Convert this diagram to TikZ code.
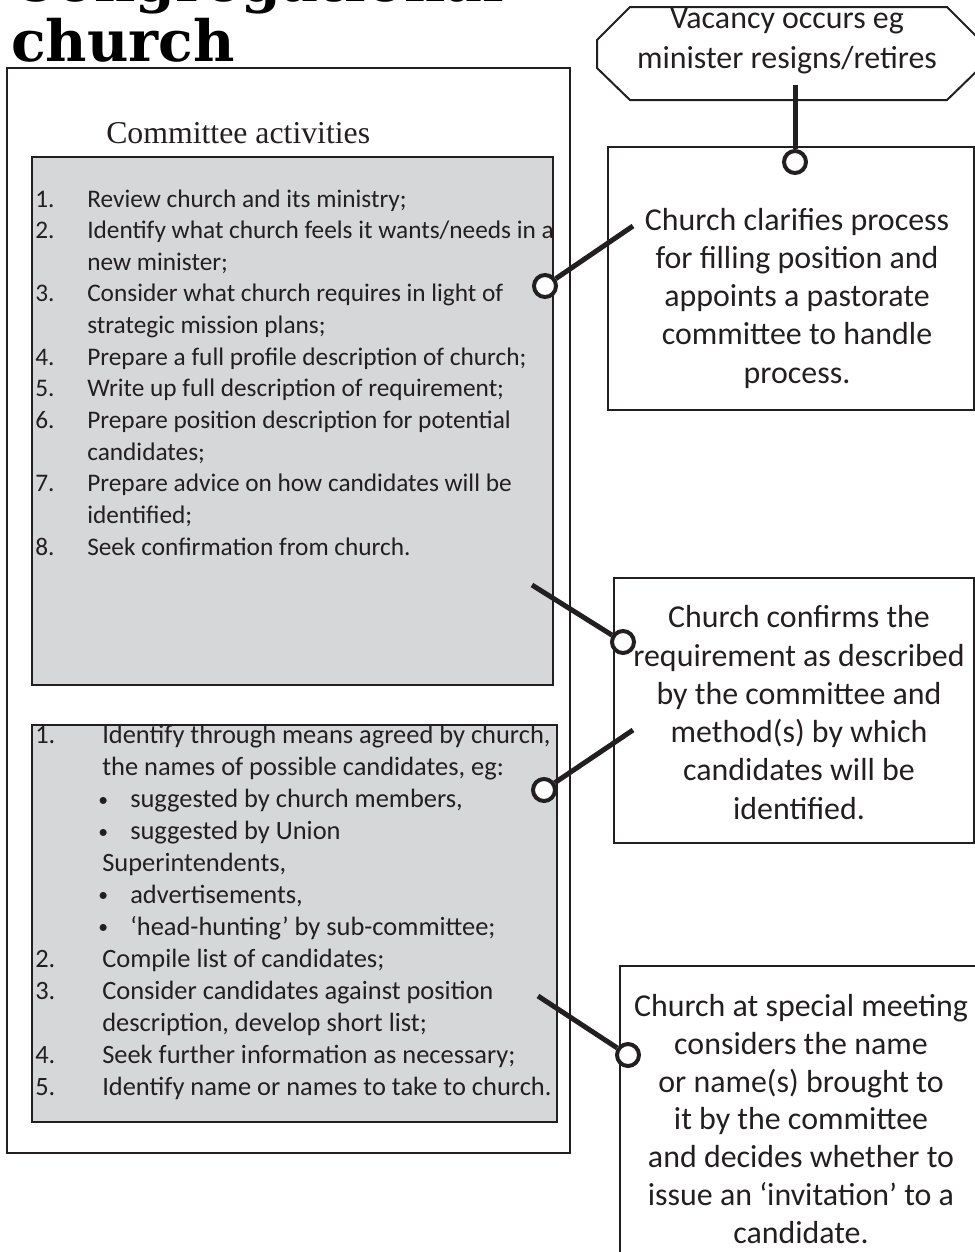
\documentclass[tikz,border=0pt]{standalone}
\usepackage{fontspec}
\usepackage{xcolor}
\usepackage{tikz}
\setmainfont{Carlito}
\newfontfamily\titlefont{DejaVu Serif}
\newfontfamily\headfont{Liberation Serif}
\definecolor{inkgray}{RGB}{35,31,32}
\definecolor{panelgray}{RGB}{214,215,217}
\newcommand\lnum[2][13mm]{\makebox[#1][l]{#2}}
\newcommand\dotmark{\lnum[15.75mm]{}\lnum[8mm]{\fontsize{14}{14}\selectfont\raisebox{1.2pt}{•}}}

\tikzset{
  framebox/.style={draw=inkgray, line width=0.5mm},
  panel/.style={framebox, fill=panelgray},
  ring/.style={circle, draw=inkgray, line width=1mm, fill=white, minimum size=5.5mm, inner sep=0pt},
  link/.style={draw=inkgray, line width=1.25mm},
  boxtext/.style={align=center, text=inkgray, inner sep=0pt, anchor=base,
    font=\fontsize{22.7}{27.2}\selectfont},
  listtext/.style={align=left, text=inkgray, inner sep=0pt, anchor=base west,
    font=\fontsize{18.8}{22.5}\selectfont},
  titletext/.style={anchor=base west, inner sep=0pt, text=black,
    font=\titlefont\bfseries\fontsize{40.5}{44}\selectfont}
}

\begin{document}
\begin{tikzpicture}[x=0.25mm,y=-0.25mm]
  \useasboundingbox (0,0) rectangle (975,1252);
  % title, first line runs off the top
  \node[titletext] (titletop) at (11,1) {Congregational};
  \node[titletext] (titlelow) at (11,61) {church};

  % committee side (text nodes sit on their last baseline)
  \draw[framebox] (7,68) rectangle (570,1153);
  \node[anchor=base west, inner sep=0pt, text=inkgray,
    font=\headfont\fontsize{22.6}{27}\selectfont] (heading) at (106,143) {Committee activities};
  \draw[panel] (32,157) rectangle (553,685);
  \draw[panel] (32,725) rectangle (557,1122);
  \node[listtext, font=\fontsize{18}{22.5}\selectfont] (tasks) at (35,555) {%
    \lnum{1.}Review church and its ministry;\\
    \lnum{2.}Identify what church feels it wants/needs in a\\
    \lnum{}new minister;\\
    \lnum{3.}Consider what church requires in light of\\
    \lnum{}strategic mission plans;\\
    \lnum{4.}Prepare a full profile description of church;\\
    \lnum{5.}Write up full description of requirement;\\
    \lnum{6.}Prepare position description for potential\\
    \lnum{}candidates;\\
    \lnum{7.}Prepare advice on how candidates will be\\
    \lnum{}identified;\\
    \lnum{8.}Seek confirmation from church.};
  \node[listtext, font=\fontsize{18.8}{22.7}\selectfont] (search) at (35,1095) {%
    \lnum[16.75mm]{1.}Identify through means agreed by church,\\
    \lnum[16.75mm]{}the names of possible candidates, eg:\\
    \dotmark suggested by church members,\\
    \dotmark suggested by Union\\
    \lnum[16.75mm]{}Superintendents,\\
    \dotmark advertisements,\\
    \dotmark ‘head-hunting’ by sub-committee;\\
    \lnum[16.75mm]{2.}Compile list of candidates;\\
    \lnum[16.75mm]{3.}Consider candidates against position\\
    \lnum[16.75mm]{}description, develop short list;\\
    \lnum[16.75mm]{4.}Seek further information as necessary;\\
    \lnum[16.75mm]{5.}Identify name or names to take to church.};

  % church side
  \draw[framebox] (597,40) -- (630,7) -- (947,7) -- (980,40) -- (980,68)
    -- (947,100) -- (630,100) -- (597,68) -- cycle;
  \node[boxtext, font=\fontsize{22.7}{28.4}\selectfont] (vacancy) at (787,68)
    {Vacancy occurs eg\\minister resigns/retires};
  \draw[framebox] (608,147) rectangle (974,410);
  \node[boxtext] (clarify) at (797,383)
    {Church clarifies process\\for filling position and\\appoints a pastorate\\committee to handle\\process.};
  \draw[framebox] (614,578) rectangle (974,843);
  \node[boxtext] (confirm) at (799,819)
    {Church confirms the\\requirement as described\\by the committee and\\method(s) by which\\candidates will be\\identified.};
  \draw[framebox] (620,966) rectangle (990,1270);
  \node[boxtext, font=\fontsize{22.7}{26.8}\selectfont] (meeting) at (801,1243)
    {Church at special meeting\\considers the name\\or name(s) brought to\\it by the committee\\and decides whether to\\issue an ‘invitation’ to a\\candidate.};

  % connectors
  \coordinate (vacfoot) at (795,85);
  \coordinate (taskpt) at (633,226);
  \coordinate (confirmpt) at (532,585);
  \coordinate (methodpt) at (633,730);
  \coordinate (shortpt) at (538,996);
  \node[ring] (clarifyring) at (795,162) {};
  \node[ring] (taskring) at (545,286) {};
  \node[ring] (confirmring) at (623,642) {};
  \node[ring] (searchring) at (544,790) {};
  \node[ring] (meetingring) at (628,1055) {};
  \draw[link] (vacfoot) -- (clarifyring);
  \draw[link] (taskpt) -- (taskring);
  \draw[link] (confirmpt) -- (confirmring);
  \draw[link] (methodpt) -- (searchring);
  \draw[link] (shortpt) -- (meetingring);
\end{tikzpicture}
\end{document}
